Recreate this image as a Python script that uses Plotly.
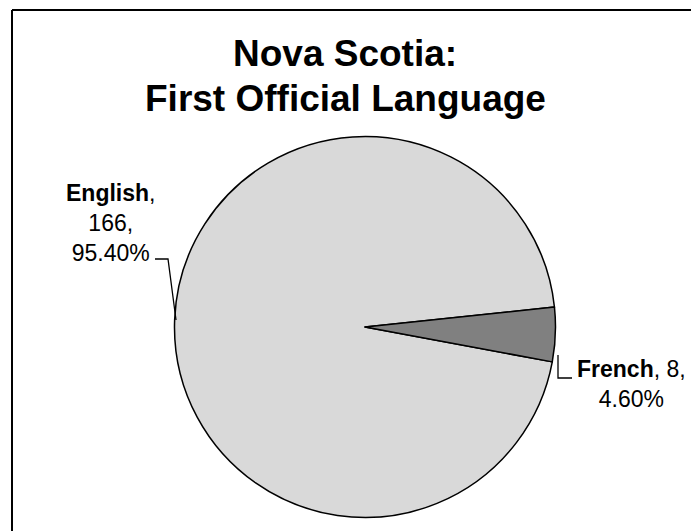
import plotly.graph_objects as go

# Nova Scotia: first official language of respondents
languages = ["English", "French"]
counts = [166, 8]
slice_colors = ["#d9d9d9", "#808080"]
title_lines = ["Nova Scotia:", "First Official Language"]

W, H = 691, 531
FONT = "Liberation Sans, Arial, sans-serif"

total = sum(counts)
shares = [c / total for c in counts]

# French wedge starts ~6 degrees above 3 o'clock; English is drawn first,
# so start it where the French wedge ends.
french_start = 84.0
rotation = french_start + 360.0 * shares[1]


def px_x(x):
    return x / W


def px_y(y):
    return 1 - y / H


fig = go.Figure(
    go.Pie(
        labels=languages,
        values=counts,
        sort=False,
        direction="clockwise",
        rotation=rotation,
        marker=dict(colors=slice_colors, line=dict(color="black", width=1.5)),
        textinfo="none",
        hoverinfo="skip",
        showlegend=False,
        domain=dict(x=[px_x(174.5), px_x(555.5)], y=[px_y(517.5), px_y(136.5)]),
    )
)

annotations = []
# title, one annotation per line
for text, yc in zip(title_lines, [54, 98.5]):
    annotations.append(dict(
        text=f"<b>{text}</b>", x=px_x(345), y=px_y(yc), xref="paper", yref="paper",
        xanchor="center", yanchor="middle", showarrow=False,
        font=dict(family=FONT, size=37, color="black"),
    ))


def label_text(i, breaks):
    parts = [f"<b>{languages[i]}</b>", f"{counts[i]}", f"{shares[i] * 100:.2f}%"]
    out = parts[0]
    for p, br in zip(parts[1:], breaks):
        out += (",<br>" if br else ", ") + p
    return out


annotations.append(dict(
    text=label_text(0, [True, True]), x=px_x(110), y=px_y(223),
    xref="paper", yref="paper", xanchor="center", yanchor="middle",
    align="center", showarrow=False, font=dict(family=FONT, size=23, color="black"),
))
annotations.append(dict(
    text=label_text(1, [False, True]) .replace("%", "%"), x=px_x(631), y=px_y(384),
    xref="paper", yref="paper", xanchor="center", yanchor="middle",
    align="center", showarrow=False, font=dict(family=FONT, size=23, color="black"),
))
# trailing comma after the count on the French label's first line
annotations[-1]["text"] = f"<b>{languages[1]}</b>, {counts[1]},<br>{shares[1] * 100:.2f}%"

line_style = dict(color="black", width=1.3)


def polyline(points):
    path = "M " + " L ".join(f"{px_x(x)},{px_y(y)}" for x, y in points)
    return dict(type="path", path=path, xref="paper", yref="paper", line=line_style)


shapes = [
    # leader lines
    polyline([(155, 259), (168, 259), (176, 320)]),
    polyline([(558, 355), (558, 378), (572, 378)]),
    # chart border (top and left edges)
    dict(type="line", xref="paper", yref="paper", x0=px_x(12), x1=px_x(W + 5),
         y0=px_y(10), y1=px_y(10), line=dict(color="black", width=2)),
    dict(type="line", xref="paper", yref="paper", x0=px_x(12), x1=px_x(12),
         y0=px_y(10), y1=px_y(H + 5), line=dict(color="black", width=2)),
]

fig.update_layout(
    width=W, height=H,
    margin=dict(l=0, r=0, t=0, b=0),
    paper_bgcolor="white", plot_bgcolor="white",
    annotations=annotations,
    shapes=shapes,
)

fig.write_html("out.html")
